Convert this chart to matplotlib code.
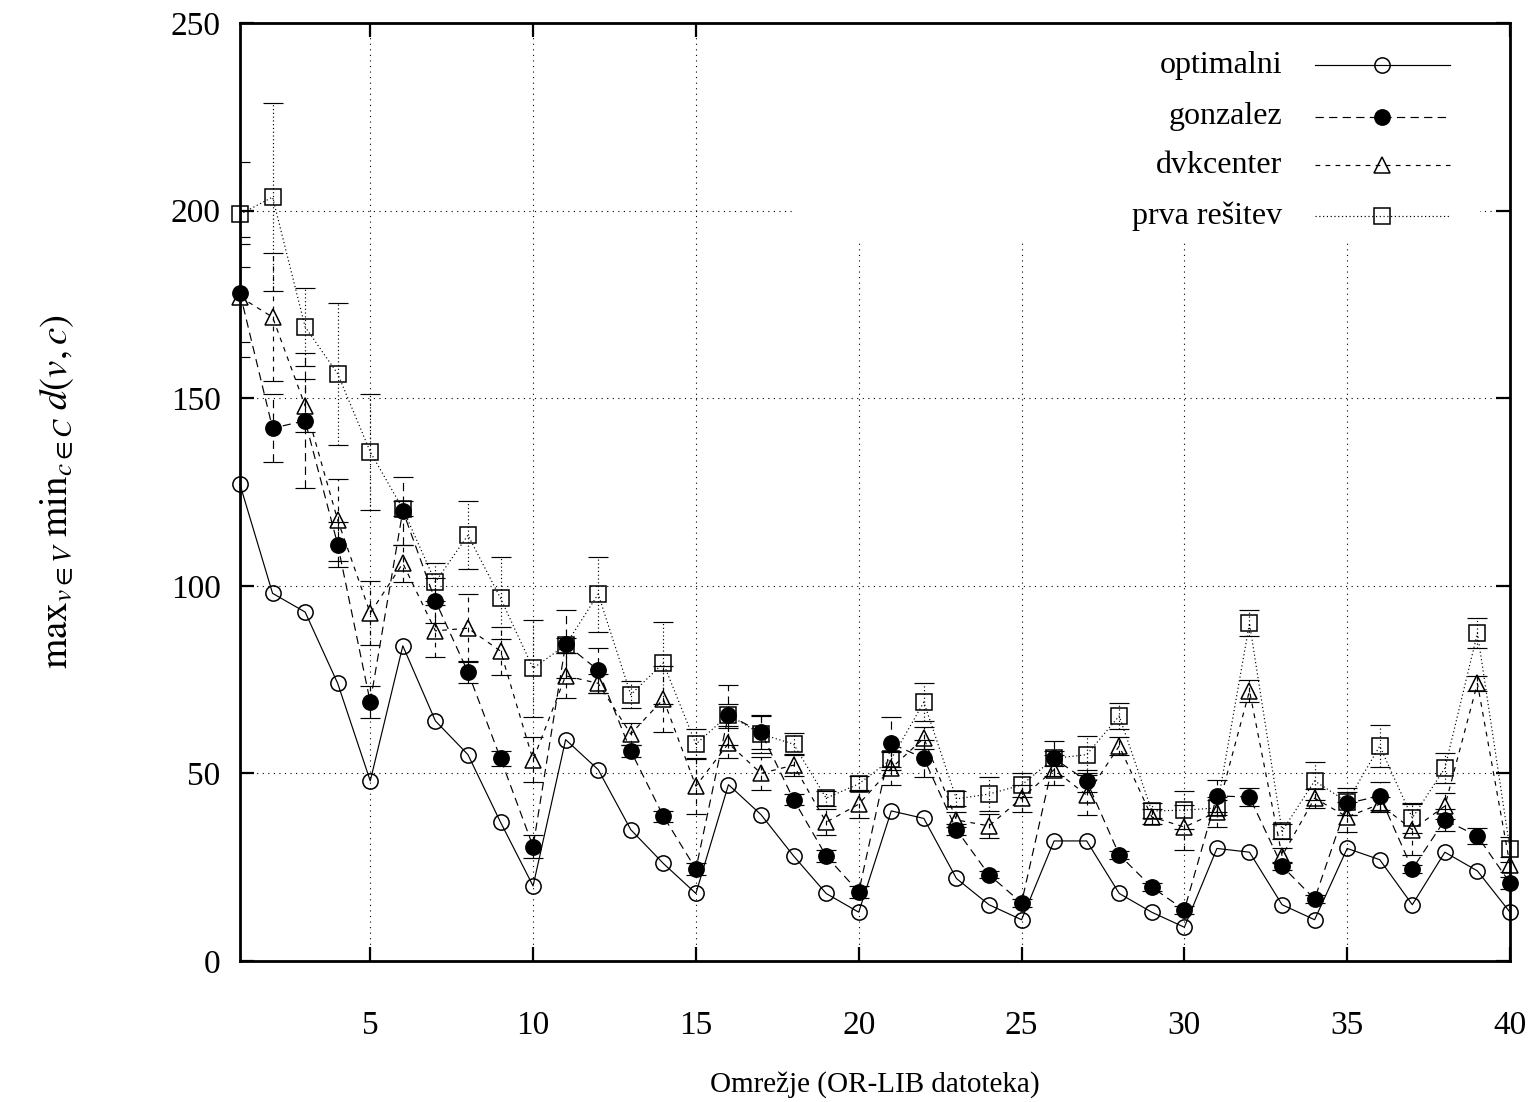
import numpy as np
import matplotlib
matplotlib.use('Agg')
import matplotlib.pyplot as plt
from matplotlib.patches import Rectangle

plt.rcParams['font.family'] = ['Liberation Serif', 'DejaVu Serif']
plt.rcParams['mathtext.fontset'] = 'stix'

# omrezja 1..40 (OR-LIB pmed datoteke)
networks = np.arange(1, 41)

optimalni = [127, 98, 93, 74, 48, 84, 64, 55, 37, 20,
             59, 51, 35, 26, 18, 47, 39, 28, 18, 13,
             40, 38, 22, 15, 11, 32, 32, 18, 13, 9,
             30, 29, 15, 11, 30, 27, 15, 29, 24, 13]

gonzalez = [178, 142, 144, 111, 69, 120, 96, 77, 54, 30.5,
            84.5, 77.5, 56, 38.6, 24.5, 65.6, 61, 43, 28, 18.4,
            58, 54, 35, 23, 15.5, 54, 48, 28.3, 19.7, 13.6,
            44, 43.7, 25.3, 16.5, 42, 44, 24.5, 37.6, 33.3, 20.8]
gonzalez_err = [13, 9, 18, 6, 4.3, 9, 6, 3, 2, 3,
                9, 6, 1.5, 1.5, 1.5, 8, 4.4, 1.5, 1.5, 1.5,
                7, 5, 1.5, 1, 1, 4.6, 3, 1, 1, 1,
                4.2, 2.5, 1, 1, 3, 3.8, 1, 3, 2.1, 1.5]

dvkcenter = [177, 171.6, 148, 117.5, 92.7, 106, 88, 88.7, 82.6, 53.6,
             76, 74, 60.5, 69.8, 46.6, 58, 50, 52.2, 37, 41.8,
             51.4, 59.4, 37.6, 36, 43.4, 51, 44.2, 57.3, 38.4, 35.7,
             39.7, 72, 28, 43.4, 38.4, 41.8, 35, 41.3, 74, 25.6]
dvkcenter_err = [16, 17, 7, 11, 8.5, 5, 7, 9, 6.5, 6,
                 6, 2.5, 3, 8.7, 7.5, 4, 4.4, 3, 3.4, 3.8,
                 4.5, 3, 2, 3.2, 3.6, 4, 5.3, 2.5, 2, 6,
                 4, 3, 2, 2.5, 4, 2, 6.8, 3.5, 2, 2]

prva = [199, 203.6, 169, 156.5, 135.7, 120.5, 101, 113.5, 96.7, 78,
        84.2, 97.8, 71, 79.4, 57.8, 65.6, 60.5, 57.8, 43.4, 47.2,
        53.8, 69, 43.2, 44.5, 46.9, 54, 55, 65.3, 40, 40.2,
        40.8, 90, 34.6, 48, 42.4, 57.3, 38.1, 51.4, 87.4, 29.8]
prva_err = [14, 25, 10.5, 19, 15.5, 2, 5, 9, 11, 13,
            2, 10, 3.5, 11, 4, 3, 5, 3, 2, 2,
            2, 5, 2, 4.5, 3.3, 2, 5, 3.5, 2, 5,
            2, 3.5, 2, 5, 3.6, 5.6, 4, 4, 4, 3.3]

labels = ['optimalni', 'gonzalez', 'dvkcenter', 'prva rešitev']

lw = 0.85
ms = 11
dash_g = (0, (7, 4.5))
dash_d = (0, (4, 4.5))
dash_p = (0, (1, 2.2))

fig = plt.figure(figsize=(15.36, 11.02), dpi=100)
ax = fig.add_axes([240 / 1536, 1 - 961 / 1102, 1270 / 1536, 938 / 1102])

# grid
ax.set_axisbelow(True)
ax.grid(True, color='black', linestyle=(0, (1, 4)), linewidth=0.8)

# blank grid under key
ax.add_patch(Rectangle((0.437, 0.7687), 0.539, 0.25, transform=ax.transAxes,
                       facecolor='white', edgecolor='none', zorder=1.5))


def series(y, err, ls, marker, mfc):
    if err is not None:
        eb = ax.errorbar(networks, y, yerr=err, fmt='none', ecolor='black',
                         elinewidth=lw, capsize=7, capthick=lw, zorder=2)
        eb[2][0].set_linestyle(ls)
    ax.plot(networks, y, color='black', linestyle=ls, linewidth=lw,
            marker=marker, markersize=ms, markerfacecolor=mfc,
            markeredgecolor='black', markeredgewidth=1.1, zorder=3,
            clip_on=False)


series(optimalni, None, '-', 'o', 'none')
series(gonzalez, gonzalez_err, dash_g, 'o', 'black')
series(dvkcenter, dvkcenter_err, dash_d, '^', 'none')
series(prva, prva_err, dash_p, 's', 'none')

# key (gnuplot style: text right, sample on the right)
key_y = [0.9552, 0.9, 0.8486, 0.7943]
key_ls = ['-', dash_g, dash_d, dash_p]
key_mk = ['o', 'o', '^', 's']
key_fc = ['none', 'black', 'none', 'none']
for lab, yk, ls, mk, fc in zip(labels, key_y, key_ls, key_mk, key_fc):
    ax.text(0.8205, yk, lab, transform=ax.transAxes, ha='right', va='center',
            fontsize=23, zorder=5)
    ax.plot([0.8465, 0.9528], [yk, yk], transform=ax.transAxes, color='black',
            linestyle=ls, linewidth=lw, zorder=5)
    ax.plot([0.8992], [yk], transform=ax.transAxes, marker=mk, markersize=ms,
            markerfacecolor=fc, markeredgecolor='black', markeredgewidth=1.1,
            linestyle='none', zorder=5)

ax.set_xlim(1, 40)
ax.set_ylim(0, 250)
ax.set_xticks(np.arange(5, 41, 5))
ax.set_yticks(np.arange(0, 251, 50))
ax.tick_params(direction='in', length=10, width=1.6, top=True, right=True,
               labelsize=24)
ax.tick_params(axis='x', pad=36)
ax.tick_params(axis='y', pad=14)
for sp in ax.spines.values():
    sp.set_linewidth(2)

ax.set_xlabel('Omrežje (OR-LIB datoteka)', fontsize=21, labelpad=21)
ax.set_ylabel(r'$\mathrm{max}_{v\in V}\;\mathrm{min}_{c\in C}\;d(v,c)$',
              fontsize=28, labelpad=68)

fig.savefig('out.png', dpi=100)
